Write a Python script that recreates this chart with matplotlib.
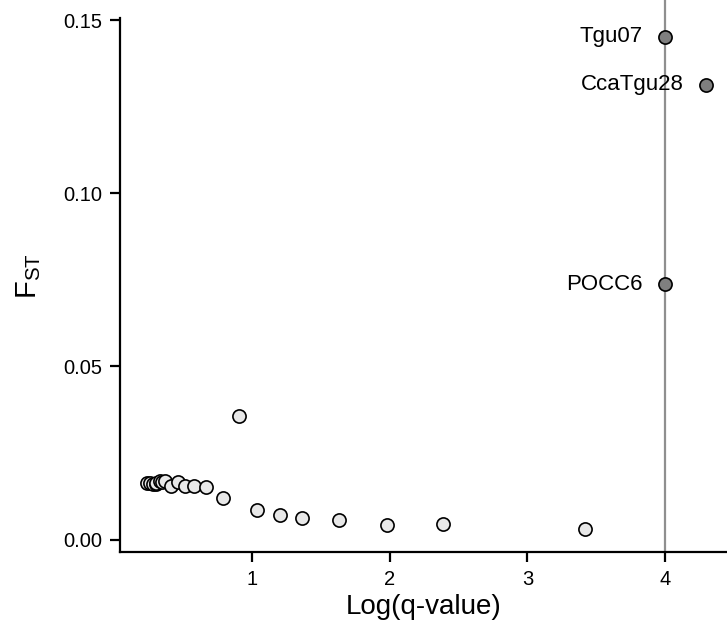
import matplotlib.pyplot as plt

plt.rcParams['font.family'] = ['Liberation Sans', 'DejaVu Sans']
plt.rcParams['mathtext.default'] = 'regular'

# non-significant loci (light markers)
log_q = [0.24, 0.26, 0.28, 0.30, 0.305, 0.33, 0.342, 0.366, 0.414, 0.462, 0.511,
         0.580, 0.662, 0.785, 0.903, 1.036, 1.201, 1.363, 1.630, 1.977, 2.388, 3.418]
fst = [0.0163, 0.0163, 0.0161, 0.0160, 0.0163, 0.0168, 0.0165, 0.0170, 0.0156, 0.0165, 0.0154,
       0.0154, 0.0152, 0.0121, 0.0357, 0.0086, 0.0070, 0.0061, 0.0058, 0.0041, 0.0044, 0.0032]

# outlier loci (dark markers)
out_names = ['Tgu07', 'CcaTgu28', 'POCC6']
out_q = [4.0, 4.30, 4.0]
out_fst = [0.1452, 0.1314, 0.0738]

threshold = 4

fig = plt.figure(figsize=(7.27, 6.32), dpi=100)
ax = fig.add_axes([0.165, 0.127, 0.835, 0.873])

ax.axvline(threshold, color='#8f8f8f', lw=1.6, zorder=1)
ax.scatter(log_q, fst, s=90, facecolor='#e8e8e8', edgecolor='black', linewidth=1.2, zorder=3)
ax.scatter(out_q, out_fst, s=90, facecolor='#7f7f7f', edgecolor='black', linewidth=1.2, zorder=3)

for name, x, y in zip(out_names, out_q, out_fst):
    ax.annotate(name, (x, y), xytext=(-16, 0), textcoords='offset points',
                ha='right', va='center', fontsize=16)

ax.set_xlim(0.04, 4.45)
ax.set_ylim(-0.0035, 0.1558)
ax.set_xticks([1, 2, 3, 4])
ax.set_yticks([0, 0.05, 0.10, 0.15])
ax.set_yticklabels(['0.00', '0.05', '0.10', '0.15'])

for side in ['top', 'right']:
    ax.spines[side].set_visible(False)
for side in ['left', 'bottom']:
    ax.spines[side].set_linewidth(1.6)
ax.spines['left'].set_bounds(-0.0035, 0.1505)
ax.tick_params(length=7, width=1.6, labelsize=14.5, pad=6)

ax.set_xlabel('Log(q-value)', fontsize=20, labelpad=4)
ax.set_ylabel(r'$F_{ST}$', fontsize=21, labelpad=14)

fig.savefig('out.png', dpi=100)
